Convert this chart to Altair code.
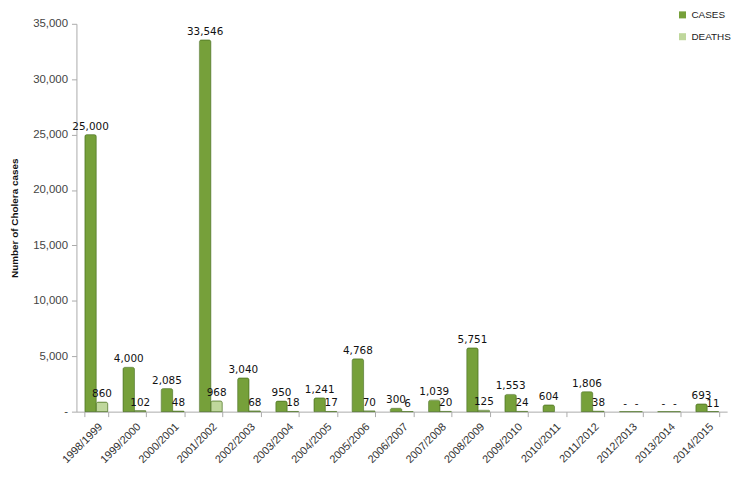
import altair as alt
import pandas as pd

years = ["1998/1999", "1999/2000", "2000/2001", "2001/2002", "2002/2003", "2003/2004",
         "2004/2005", "2005/2006", "2006/2007", "2007/2008", "2008/2009", "2009/2010",
         "2010/2011", "2011/2012", "2012/2013", "2013/2014", "2014/2015"]
cases = [25000, 4000, 2085, 33546, 3040, 950, 1241, 4768, 300, 1039, 5751, 1553,
         604, 1806, 0, 0, 693]
deaths = [860, 102, 48, 968, 68, 18, 17, 70, 6, 20, 125, 24,
          None, 38, 0, 0, 11]

rows = []
for y, c, d in zip(years, cases, deaths):
    rows.append({"year": y, "series": "CASES", "value": c})
    rows.append({"year": y, "series": "DEATHS", "value": d})
df = pd.DataFrame(rows)

x = alt.X("year:N", sort=years, title=None,
          scale=alt.Scale(paddingInner=0.4, paddingOuter=0.22),
          axis=alt.Axis(labelAngle=-45, labelAlign="right", labelBaseline="top",
                        labelFont="Liberation Sans", labelFontSize=11, labelColor="#333",
                        tickBand="extent", domainColor="#aaa", tickColor="#aaa",
                        tickSize=5, labelPadding=4))
xoff = alt.XOffset("series:N", sort=["CASES", "DEATHS"])
y = alt.Y("value:Q", title="Number of Cholera cases",
          scale=alt.Scale(domain=[0, 35000], nice=False),
          axis=alt.Axis(values=list(range(0, 35001, 5000)), grid=False,
                        labelExpr="datum.value == 0 ? '-' : format(datum.value, ',')",
                        labelFont="Liberation Sans", labelFontSize=11.5, labelColor="#444",
                        titleFont="Liberation Sans", titleFontSize=10, titleFontWeight="bold",
                        titleColor="#111", titlePadding=13,
                        domainColor="#aaa", tickColor="#aaa", tickSize=5, labelPadding=4))

color = alt.Color("series:N", sort=["CASES", "DEATHS"],
                  scale=alt.Scale(domain=["CASES", "DEATHS"], range=["#76A03A", "#BFD79C"]),
                  legend=alt.Legend(title=None, orient="none", legendX=606, legendY=-14,
                                    symbolType="square", symbolSize=50, symbolStrokeWidth=0,
                                    labelFont="Liberation Sans", labelFontSize=10,
                                    labelColor="#222", rowPadding=12))

base = alt.Chart(df).encode(x=x, xOffset=xoff)

bars = base.mark_bar(stroke="#4e7424", strokeWidth=0.6, cornerRadiusTopLeft=2,
                     cornerRadiusTopRight=2).encode(y=y, color=color)

labels = base.transform_filter("isValid(datum.value)").transform_calculate(
    lab="datum.value == 0 ? '-' : format(datum.value, ',')"
).mark_text(baseline="bottom", dy=-3, font="DejaVu Sans", fontSize=10.5,
            color="#111").encode(y="value:Q", text="lab:N")

chart = (bars + labels).properties(
    width=656, height=391,
    autosize=alt.AutoSizeParams(type="none"),
    padding={"left": 69, "top": 14, "right": 15, "bottom": 70},
).configure_view(stroke=None)

chart.save("out.html", embed_options={"renderer": "svg", "actions": False})
